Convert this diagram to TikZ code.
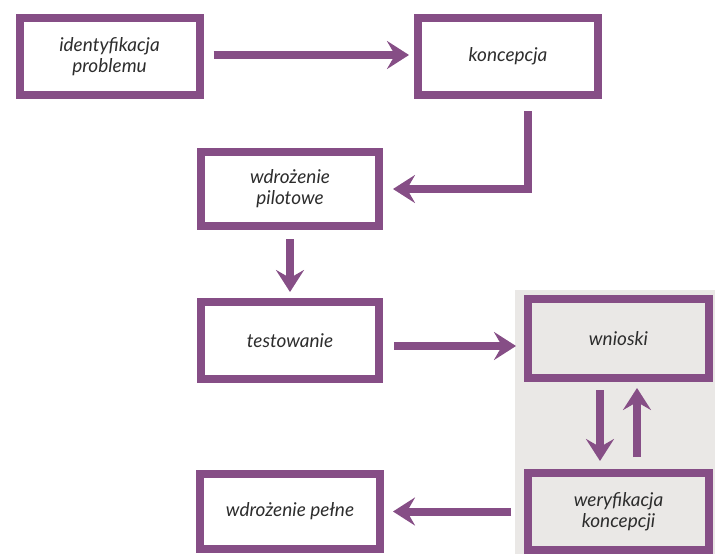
\documentclass[tikz,border=0pt]{standalone}
\usepackage{fontspec}
\setmainfont{Lato}
\usetikzlibrary{arrows.meta}
\definecolor{plum}{RGB}{134,78,134}
\definecolor{panel}{RGB}{234,232,230}
\definecolor{ink}{RGB}{45,45,45}
\tikzset{
  stepbox/.style={draw=plum, line width=8pt, fill=white, minimum width=180pt,
    minimum height=77pt, align=center, text=ink,
    font=\fontsize{19}{21}\selectfont\itshape, inner sep=0pt},
  flow/.style={draw=plum, line width=8pt,
    -{Stealth[length=22pt, width=28pt, inset=8pt]}}
}
\begin{document}
\begin{tikzpicture}[x=1pt, y=-1pt]
\useasboundingbox (0,0) rectangle (715,554);
% grey panel behind the evaluation loop
\fill[panel] (515,290) rectangle (715,554);
% process steps
\node[stepbox] (ident) at (109.5,56.5) {identyfikacja\\problemu};
\node[stepbox] (konc) at (508,56.5) {koncepcja};
\node[stepbox, minimum width=178pt, minimum height=74pt] (pilot) at (290,189) {wdrożenie\\pilotowe};
\node[stepbox, minimum width=178pt] (test) at (290,340.5) {testowanie};
\node[stepbox, fill=panel, minimum width=181pt, minimum height=79pt] (wnioski) at (618.5,338.5) {wnioski};
\node[stepbox, fill=panel, minimum width=181pt] (weryf) at (618.5,511.5) {weryfikacja\\koncepcji};
\node[stepbox, minimum width=180pt, minimum height=75pt] (pelne) at (290,511.5) {wdrożenie pełne};
% connectors
\draw[flow, shorten <=10pt, shorten >=5pt] (ident.east |- 0,55) -- (konc.west |- 0,55);
\coordinate (kbend) at (528,189);
\draw[flow, shorten <=12pt, shorten >=10pt] (konc.south -| kbend) -- (kbend) -- (pilot.east);
\draw[flow, shorten <=9pt, shorten >=6pt] (pilot.south) -- (test.north);
\draw[flow, shorten <=11pt, shorten >=8pt] (test.east |- 0,346) -- (wnioski.west |- 0,346);
\coordinate (dn) at (600,0);
\coordinate (up) at (637,0);
\draw[flow, shorten <=8pt, shorten >=8pt] (wnioski.south -| dn) -- (weryf.north -| dn);
\draw[flow, shorten <=12pt, shorten >=6pt] (weryf.north -| up) -- (wnioski.south -| up);
\draw[flow, shorten <=13pt, shorten >=9pt] (weryf.west) -- (pelne.east);
\end{tikzpicture}
\end{document}
